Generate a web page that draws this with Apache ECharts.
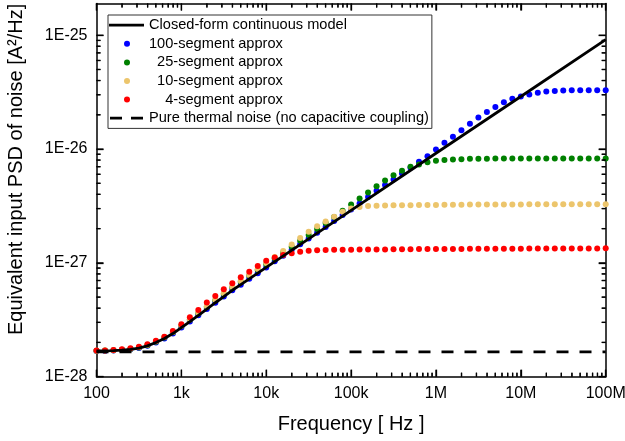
<!DOCTYPE html>
<html>
<head>
<meta charset="utf-8">
<script src="https://cdn.jsdelivr.net/npm/echarts@6/dist/echarts.min.js"></script>
<style>
  html, body { margin: 0; padding: 0; background: #fff; }
  #chart { width: 625px; height: 441px; }
</style>
</head>
<body>
<div id="chart"></div>
<script>
// Frequencies of the lumped-model samples (10 per decade, 100 Hz .. 100 MHz)
const freqHz = [
  100, 125.9, 158.5, 199.5, 251.2, 316.2, 398.1, 501.2, 631, 794.3,
  1e3, 1259, 1585, 1995, 2512, 3162, 3981, 5012, 6310, 7943,
  1e4, 12590, 15850, 19950, 25120, 31620, 39810, 50120, 63100, 79430,
  1e5, 125900, 158500, 199500, 251200, 316200, 398100, 501200, 631000, 794300,
  1e6, 1.259e6, 1.585e6, 1.995e6, 2.512e6, 3.162e6, 3.981e6, 5.012e6, 6.31e6, 7.943e6,
  1e7, 1.259e7, 1.585e7, 1.995e7, 2.512e7, 3.162e7, 3.981e7, 5.012e7, 6.31e7, 7.943e7,
  1e8
];

// Closed-form continuous model (A^2/Hz)
const modelFreqHz = [
  100, 125.9, 158.5, 199.5, 251.2, 316.2, 398.1, 501.2, 631, 794.3,
  1e3, 1259, 1585, 1995, 2512, 3162, 3981, 5012, 6310, 7943,
  1e4, 1e5, 1e6, 1e7, 1e8
];
const modelPSD = [
  1.681e-28, 1.685e-28, 1.695e-28, 1.712e-28, 1.740e-28, 1.786e-28, 1.867e-28, 1.997e-28, 2.165e-28, 2.395e-28,
  2.704e-28, 3.052e-28, 3.460e-28, 3.930e-28, 4.464e-28, 5.059e-28, 5.745e-28, 6.437e-28, 7.236e-28, 8.122e-28,
  9.13e-28, 2.895e-27, 9.18e-27, 2.896e-26, 9.15e-26
];

// 100-segment lumped approximation
const psd100seg = [
  1.681e-28, 1.685e-28, 1.695e-28, 1.712e-28, 1.740e-28, 1.786e-28, 1.867e-28, 1.997e-28, 2.165e-28, 2.395e-28,
  2.704e-28, 3.052e-28, 3.460e-28, 3.930e-28, 4.464e-28, 5.059e-28, 5.745e-28, 6.437e-28, 7.236e-28, 8.122e-28,
  9.13e-28, 1.031e-27, 1.157e-27, 1.301e-27, 1.459e-27, 1.641e-27, 1.841e-27, 2.071e-27, 2.328e-27, 2.628e-27,
  2.949e-27, 3.33e-27, 3.79e-27, 4.296e-27, 4.821e-27, 5.410e-27, 6.107e-27, 6.838e-27, 7.719e-27, 8.664e-27,
  9.92e-27, 1.134e-26, 1.285e-26, 1.466e-26, 1.668e-26, 1.894e-26, 2.121e-26, 2.342e-26, 2.581e-26, 2.770e-26,
  2.902e-26, 3.022e-26, 3.128e-26, 3.211e-26, 3.243e-26, 3.270e-26, 3.281e-26, 3.286e-26, 3.289e-26, 3.29e-26,
  3.29e-26
];

// 25-segment lumped approximation
const psd25seg = [
  1.691e-28, 1.695e-28, 1.705e-28, 1.722e-28, 1.750e-28, 1.804e-28, 1.893e-28, 2.033e-28, 2.213e-28, 2.460e-28,
  2.788e-28, 3.159e-28, 3.595e-28, 4.099e-28, 4.678e-28, 5.322e-28, 6.067e-28, 6.823e-28, 7.692e-28, 8.650e-28,
  9.74e-28, 1.095e-27, 1.231e-27, 1.388e-27, 1.563e-27, 1.761e-27, 1.988e-27, 2.240e-27, 2.535e-27, 2.867e-27,
  3.263e-27, 3.684e-27, 4.159e-27, 4.723e-27, 5.301e-27, 5.901e-27, 6.436e-27, 6.981e-27, 7.326e-27, 7.644e-27,
  7.910e-27, 8.024e-27, 8.106e-27, 8.155e-27, 8.204e-27, 8.22e-27, 8.23e-27, 8.24e-27, 8.245e-27, 8.25e-27,
  8.255e-27, 8.26e-27, 8.26e-27, 8.265e-27, 8.265e-27, 8.27e-27, 8.27e-27, 8.27e-27, 8.275e-27, 8.275e-27,
  8.28e-27
];

// 10-segment lumped approximation
const psd10seg = [
  1.694e-28, 1.699e-28, 1.709e-28, 1.729e-28, 1.761e-28, 1.815e-28, 1.904e-28, 2.047e-28, 2.228e-28, 2.474e-28,
  2.804e-28, 3.183e-28, 3.633e-28, 4.150e-28, 4.745e-28, 5.408e-28, 6.164e-28, 6.939e-28, 7.829e-28, 8.829e-28,
  9.96e-28, 1.127e-27, 1.269e-27, 1.453e-27, 1.651e-27, 1.876e-27, 2.096e-27, 2.314e-27, 2.540e-27, 2.810e-27,
  3.010e-27, 3.103e-27, 3.153e-27, 3.178e-27, 3.197e-27, 3.205e-27, 3.21e-27, 3.215e-27, 3.22e-27, 3.225e-27,
  3.23e-27, 3.235e-27, 3.24e-27, 3.245e-27, 3.25e-27, 3.25e-27, 3.255e-27, 3.26e-27, 3.26e-27, 3.265e-27,
  3.265e-27, 3.27e-27, 3.27e-27, 3.27e-27, 3.275e-27, 3.275e-27, 3.275e-27, 3.28e-27, 3.28e-27, 3.28e-27,
  3.28e-27
];

// 4-segment lumped approximation
const psd4seg = [
  1.695e-28, 1.702e-28, 1.716e-28, 1.740e-28, 1.776e-28, 1.834e-28, 1.925e-28, 2.071e-28, 2.245e-28, 2.519e-28,
  2.884e-28, 3.323e-28, 3.851e-28, 4.482e-28, 5.111e-28, 5.852e-28, 6.607e-28, 7.458e-28, 8.354e-28, 9.373e-28,
  1.043e-27, 1.113e-27, 1.171e-27, 1.212e-27, 1.252e-27, 1.275e-27, 1.288e-27, 1.296e-27, 1.301e-27, 1.303e-27,
  1.306e-27, 1.308e-27, 1.310e-27, 1.312e-27, 1.314e-27, 1.316e-27, 1.318e-27, 1.320e-27, 1.321e-27, 1.322e-27,
  1.324e-27, 1.325e-27, 1.326e-27, 1.327e-27, 1.328e-27, 1.329e-27, 1.330e-27, 1.331e-27, 1.332e-27, 1.333e-27,
  1.334e-27, 1.335e-27, 1.336e-27, 1.336e-27, 1.337e-27, 1.338e-27, 1.338e-27, 1.339e-27, 1.340e-27, 1.340e-27,
  1.341e-27
];

// Pure thermal noise floor (no capacitive coupling)
const thermalPSD = 1.65e-28;

// Axis ranges and tick labels (the lower bound sits a hair under 1E-28 so
// that 1E-28 is generated as a regular decade tick)
const X_MIN = 100, X_MAX = 1e8;
const Y_MIN = 0.99999e-28, Y_MAX = 1.9e-25;
const xTickValues = [1e2, 1e3, 1e4, 1e5, 1e6, 1e7, 1e8];
const xTickLabels = ['100', '1k', '10k', '100k', '1M', '10M', '100M'];
const yTickValues = [1e-28, 1e-27, 1e-26, 1e-25];
const yTickLabels = ['1E-28', '1E-27', '1E-26', '1E-25'];

const xTitle = 'Frequency [ Hz ]';
const yTitle = 'Equivalent input PSD of noise [A²/Hz]';

const seriesNames = [
  'Closed-form continuous model',
  '100-segment approx',
  '25-segment approx',
  '10-segment approx',
  '4-segment approx',
  'Pure thermal noise (no capacitive coupling)'
];
const dotColors = ['#0000ff', '#008000', '#ecc56c', '#ff0000'];

const FONT = '"Liberation Sans", Arial, Helvetica, sans-serif';

// legend labels of the segment entries line up on their right side
const legendPad = { '25-segment approx': '  ', '10-segment approx': '  ', '4-segment approx': '    ' };

// legend icons (35 x 12 box)
const ICON_LINE = 'path://M0,0M35,12M0,4.6h35v2.8h-35z';
const ICON_DOT = 'path://M0,0M35,12M15,6a3,3 0 1,0 6,0a3,3 0 1,0 -6,0z';
const ICON_DASH = 'path://M0,0M35,12M1,4.6h12v2.8h-12zM22,4.6h12v2.8h-12z';

// minor tick values (2..9 within each decade)
const xMinorTicks = [];
for (let d = 100; d < X_MAX; d *= 10) for (let m = 2; m <= 9; m++) xMinorTicks.push(m * d);
const yMinorTicks = [];
for (let e = -28; e <= -26; e++) for (let m = 2; m <= 9; m++) yMinorTicks.push(m * Math.pow(10, e));

const zip = (xs, ys) => xs.map((x, i) => [x, ys[i]]);

function labelFor(values, labels) {
  return v => {
    if (!(v > 0)) return '';
    const i = values.findIndex(t => Math.abs(Math.log10(t) - Math.log10(v)) < 1e-4);
    return i < 0 ? '' : labels[i];
  };
}

const MAJOR = 7, MINOR = 4;

function axisCommon(min, max, position) {
  return {
    type: 'log', min: min, max: max, position: position,
    axisLine: { show: true, onZero: false, lineStyle: { color: '#000', width: 1.5 } },
    axisTick: { show: true, inside: true, length: MAJOR, lineStyle: { color: '#000', width: 1.3 } },
    splitLine: { show: false }
  };
}

// Inward tick marks on the frame, drawn as thin rect symbols anchored at the
// edge values and pushed half their length into the plot area
function tickSeries(data, size, offset) {
  return {
    type: 'scatter', data: data, silent: true, clip: false, z: 9,
    symbol: 'rect', symbolSize: size, symbolOffset: offset,
    itemStyle: { color: '#000', opacity: 1, borderWidth: 0 }
  };
}

const chart = echarts.init(document.getElementById('chart'));

const dotSeries = (k, data) => ({
  name: seriesNames[k + 1], type: 'scatter', data: data,
  symbol: 'circle', symbolSize: 6, color: dotColors[k],
  itemStyle: { color: dotColors[k], opacity: 1, borderWidth: 0 }
});

const xBottom = Object.assign(axisCommon(X_MIN, X_MAX, 'bottom'), {
  axisLabel: {
    margin: 9, fontFamily: FONT, fontSize: 16, color: '#000',
    showMinLabel: true, showMaxLabel: true, hideOverlap: false,
    formatter: labelFor(xTickValues, xTickLabels)
  },
  name: xTitle, nameLocation: 'middle', nameGap: 38,
  nameTextStyle: { fontFamily: FONT, fontSize: 20, color: '#000' }
});
const xTop = Object.assign(axisCommon(X_MIN, X_MAX, 'top'), { axisLabel: { show: false } });
const yLeft = Object.assign(axisCommon(Y_MIN, Y_MAX, 'left'), {
  axisLabel: {
    margin: 9, fontFamily: FONT, fontSize: 16, color: '#000',
    showMinLabel: true, showMaxLabel: false, hideOverlap: false,
    formatter: labelFor(yTickValues, yTickLabels)
  }
});
const yRight = Object.assign(axisCommon(Y_MIN, Y_MAX, 'right'), { axisLabel: { show: false } });

chart.setOption({
  animation: false,
  grid: { left: 96.5, right: 19.3, top: 3.5, bottom: 64.3, outerBoundsMode: 'none' },
  legend: {
    orient: 'vertical',
    left: 108, top: 15,
    padding: [2.7, 3, 2.7, 1],
    itemWidth: 35, itemHeight: 12, itemGap: 3.6,
    borderColor: '#333', borderWidth: 1,
    backgroundColor: '#fff',
    selectedMode: false,
    itemStyle: { borderWidth: 0, opacity: 1 },
    textStyle: { fontFamily: FONT, fontSize: 14.6, color: '#000' },
    formatter: name => (legendPad[name] || '') + name,
    data: [
      { name: seriesNames[0], icon: ICON_LINE },
      { name: seriesNames[1], icon: ICON_DOT },
      { name: seriesNames[2], icon: ICON_DOT },
      { name: seriesNames[3], icon: ICON_DOT },
      { name: seriesNames[4], icon: ICON_DOT },
      { name: seriesNames[5], icon: ICON_DASH }
    ]
  },
  xAxis: [xBottom, xTop],
  yAxis: [yLeft, yRight],
  series: [
    {
      name: seriesNames[0], type: 'line',
      data: zip(modelFreqHz, modelPSD), symbol: 'none', smooth: false,
      color: '#000', lineStyle: { color: '#000', width: 2.8 }
    },
    dotSeries(0, zip(freqHz, psd100seg)),
    dotSeries(1, zip(freqHz, psd25seg)),
    dotSeries(2, zip(freqHz, psd10seg)),
    dotSeries(3, zip(freqHz, psd4seg)),
    {
      name: seriesNames[5], type: 'line',
      data: [[X_MIN, thermalPSD], [X_MAX, thermalPSD]], symbol: 'none',
      color: '#000', lineStyle: { color: '#000', width: 2.8, type: [12, 11] }
    },
    // bottom / top edges
    tickSeries(xTickValues.map(v => [v, Y_MIN]), [1.3, MAJOR], [0, -MAJOR / 2]),
    tickSeries(xMinorTicks.map(v => [v, Y_MIN]), [1.3, MINOR], [0, -MINOR / 2]),
    tickSeries(xTickValues.map(v => [v, Y_MAX]), [1.3, MAJOR], [0, MAJOR / 2]),
    tickSeries(xMinorTicks.map(v => [v, Y_MAX]), [1.3, MINOR], [0, MINOR / 2]),
    // left / right edges
    tickSeries(yTickValues.map(v => [X_MIN, v]), [MAJOR, 1.3], [MAJOR / 2, 0]),
    tickSeries(yMinorTicks.map(v => [X_MIN, v]), [MINOR, 1.3], [MINOR / 2, 0]),
    tickSeries(yTickValues.map(v => [X_MAX, v]), [MAJOR, 1.3], [-MAJOR / 2, 0]),
    tickSeries(yMinorTicks.map(v => [X_MAX, v]), [MINOR, 1.3], [-MINOR / 2, 0])
  ]
});

// Minor ticks as plain graphic lines positioned through the axis scales,
// plus the rotated y-axis title beside the frame
const px = v => chart.convertToPixel({ xAxisIndex: 0 }, v);
const py = v => chart.convertToPixel({ yAxisIndex: 0 }, v);
const frameLeft = px(X_MIN), frameRight = px(X_MAX);
const frameBottom = py(Y_MIN), frameTop = py(Y_MAX);
const overlay = [];
xMinorTicks.forEach(v => {
  const x = px(v);
  overlay.push({ type: 'line', z: 100, shape: { x1: x, y1: frameBottom, x2: x, y2: frameBottom - MINOR }, style: { stroke: '#000', lineWidth: 1.2 } });
  overlay.push({ type: 'line', z: 100, shape: { x1: x, y1: frameTop, x2: x, y2: frameTop + MINOR }, style: { stroke: '#000', lineWidth: 1.2 } });
});
yMinorTicks.forEach(v => {
  const y = py(v);
  overlay.push({ type: 'line', z: 100, shape: { x1: frameLeft, y1: y, x2: frameLeft + MINOR, y2: y }, style: { stroke: '#000', lineWidth: 1.2 } });
  overlay.push({ type: 'line', z: 100, shape: { x1: frameRight, y1: y, x2: frameRight - MINOR, y2: y }, style: { stroke: '#000', lineWidth: 1.2 } });
});
overlay.push({
  type: 'text', z: 100,
  x: frameLeft - 80.5,
  y: (frameTop + frameBottom) / 2 - 20.7,
  rotation: Math.PI / 2,
  style: {
    text: yTitle, fill: '#000',
    font: '20px ' + FONT,
    align: 'center', verticalAlign: 'middle',
    textAlign: 'center', textVerticalAlign: 'middle'
  }
});
chart.setOption({ graphic: { elements: overlay } });
</script>
</body>
</html>
